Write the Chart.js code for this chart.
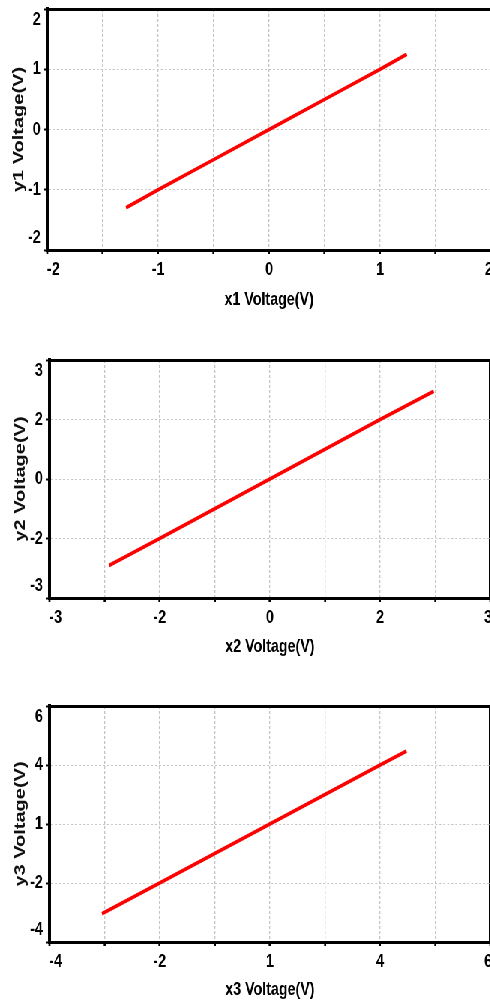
<!DOCTYPE html>
<html><head><meta charset="utf-8">
<script src="https://cdn.jsdelivr.net/npm/chart.js@4"></script>
<style>
html,body{margin:0;padding:0;background:#fff;overflow:hidden;width:490px;height:1000px}
#clip{position:relative;width:490px;height:1000px;overflow:hidden;background:#fff}
#wrap{position:absolute;left:0;top:0;width:667px;height:1000px;transform:scaleX(0.75);transform-origin:0 0}
canvas{position:absolute;left:0}
</style></head><body>
<div id="clip"><div id="wrap">
<canvas id="c1" width="667" height="330" style="top:0px"></canvas>
<canvas id="c2" width="667" height="330" style="top:350px"></canvas>
<canvas id="c3" width="667" height="330" style="top:690px"></canvas>
</div></div>
<script>
// ---- data ----
const x1 = [-1.29, -1, -0.5, 0, 0.5, 1, 1.24];
const y1 = [-1.30, -1, -0.5, 0, 0.5, 1, 1.25];
const x2 = [-2.19, -1.5, 0, 1.5, 2.23];
const y2 = [-2.18, -1.5, 0, 1.5, 2.21];
const x3 = [-2.81, -1.5, 1, 3.5, 4.10];
const y3 = [-2.80, -1.5, 1, 3.5, 4.09];

const xTickLabels1 = ['-2', '-1', '0', '1', '2'];
const yTickLabels1 = ['-2', '-1', '0', '1', '2'];
const xTickLabels2 = ['-3', '-2', '0', '2', '3'];
const yTickLabels2 = ['-3', '-2', '0', '2', '3'];
const xTickLabels3 = ['-4', '-2', '1', '4', '6'];
const yTickLabels3 = ['-4', '-2', '1', '4', '6'];

const SANS = "'Liberation Sans', Arial, sans-serif";

// shift the edge tick labels inward, as in the reference
const edgeLabels = {
  id: 'edgeLabels',
  beforeDraw(chart) {
    for (const id of ['x', 'y']) {
      const s = chart.scales[id];
      const items = s.getLabelItems();
      if (!items || items._shifted) continue;
      items._shifted = true;
      const ne = items.filter(it => it.label !== '' && it.label != null);
      if (!ne.length) continue;
      const first = ne[0], last = ne[ne.length - 1];
      if (id === 'x') {
        first.options.translation[0] += 8;
        last.options.translation[0] -= 3;
      } else {
        first.options.translation[1] -= 12;
        last.options.translation[1] += 11;
      }
    }
  }
};

function makeChart(id, d) {
  const grey = '#c6c6c6';
  const isEdge = (ctx, min, max) => ctx && ctx.tick && (Math.abs(ctx.tick.value - min) < 1e-9 || Math.abs(ctx.tick.value - max) < 1e-9);
  const tickFont = { family: SANS, size: 19, weight: 'bold' };
  return new Chart(document.getElementById(id), {
    type: 'scatter',
    data: {
      datasets: [{
        data: d.xs.map((x, i) => ({ x: x, y: d.ys[i] })),
        showLine: true,
        borderColor: '#ff0000',
        backgroundColor: '#ff0000',
        borderWidth: 3.7,
        pointRadius: 0,
        tension: 0
      }]
    },
    options: {
      responsive: false,
      animation: false,
      events: [],
      layout: { padding: { top: d.padTop, right: d.padRight, left: 0, bottom: 0 } },
      plugins: { legend: { display: false }, tooltip: { enabled: false } },
      scales: {
        x: {
          type: 'linear', position: 'bottom', min: d.xmin, max: d.xmax,
          ticks: {
            stepSize: d.xstep, autoSkip: false, maxRotation: 0, minRotation: 0,
            padding: 4, color: '#000', font: tickFont,
            callback: (v, i) => (i % 2 === 0 ? d.xLabels[i / 2] : '')
          },
          grid: {
            color: ctx => isEdge(ctx, d.xmin, d.xmax) ? '#000' : grey,
            lineWidth: ctx => isEdge(ctx, d.xmin, d.xmax) ? 4 : 1.34,
            drawTicks: true, tickLength: 4, tickColor: '#000', tickWidth: 2.67
          },
          border: {
            display: true, color: '#000', width: 3,
            dash: ctx => isEdge(ctx, d.xmin, d.xmax) ? [] : [3, 2]
          },
          title: {
            display: true, text: d.xTitle, color: '#000',
            font: { family: SANS, size: 19, weight: 'bold', lineHeight: 1.2 },
            padding: { top: 0, bottom: d.xTitlePad }
          },
          afterFit: s => { s.height = d.xAxisH; s.paddingLeft = 0; s.paddingRight = 0; }
        },
        y: {
          type: 'linear', position: 'left', min: d.ymin, max: d.ymax,
          ticks: {
            stepSize: d.ystep, autoSkip: false, padding: 4, color: '#000', font: tickFont,
            callback: (v, i) => d.yLabels[i]
          },
          grid: {
            color: ctx => isEdge(ctx, d.ymin, d.ymax) ? '#000' : grey,
            lineWidth: ctx => isEdge(ctx, d.ymin, d.ymax) ? 3 : 1,
            drawTicks: true, tickLength: 5, tickColor: '#000', tickWidth: 2
          },
          border: {
            display: true, color: '#000', width: 4,
            dash: ctx => isEdge(ctx, d.ymin, d.ymax) ? [] : [2.67, 2.67]
          },
          title: {
            display: true, text: d.yTitle, color: '#111',
            font: { family: SANS, size: 20, weight: 'bold', lineHeight: 1.2 },
            padding: { top: d.yTitlePad, bottom: 0 }
          },
          afterFit: s => { s.width = d.yAxisW; s.paddingTop = 0; s.paddingBottom = 0; }
        }
      }
    },
    plugins: [edgeLabels]
  });
}

makeChart('c1', {
  xs: x1, ys: y1, xmin: -2, xmax: 2, xstep: 0.5, ymin: -2, ymax: 2, ystep: 1,
  xLabels: xTickLabels1, yLabels: yTickLabels1,
  xTitle: 'x1 Voltage(V)', yTitle: 'y1 Voltage(V)',
  padTop: 9, padRight: 12, yAxisW: 63, xAxisH: 80, xTitlePad: 19, yTitlePad: 13
});
makeChart('c2', {
  xs: x2, ys: y2, xmin: -3, xmax: 3, xstep: 0.75, ymin: -3, ymax: 3, ystep: 1.5,
  xLabels: xTickLabels2, yLabels: yTickLabels2,
  xTitle: 'x2 Voltage(V)', yTitle: 'y2 Voltage(V)',
  padTop: 10, padRight: 13, yAxisW: 66, xAxisH: 82, xTitlePad: 22, yTitlePad: 15
});
makeChart('c3', {
  xs: x3, ys: y3, xmin: -4, xmax: 6, xstep: 1.25, ymin: -4, ymax: 6, ystep: 2.5,
  xLabels: xTickLabels3, yLabels: yTickLabels3,
  xTitle: 'x3 Voltage(V)', yTitle: 'y3 Voltage(V)',
  padTop: 16, padRight: 13, yAxisW: 66, xAxisH: 78, xTitlePad: 19, yTitlePad: 15
});
</script>
</body></html>
